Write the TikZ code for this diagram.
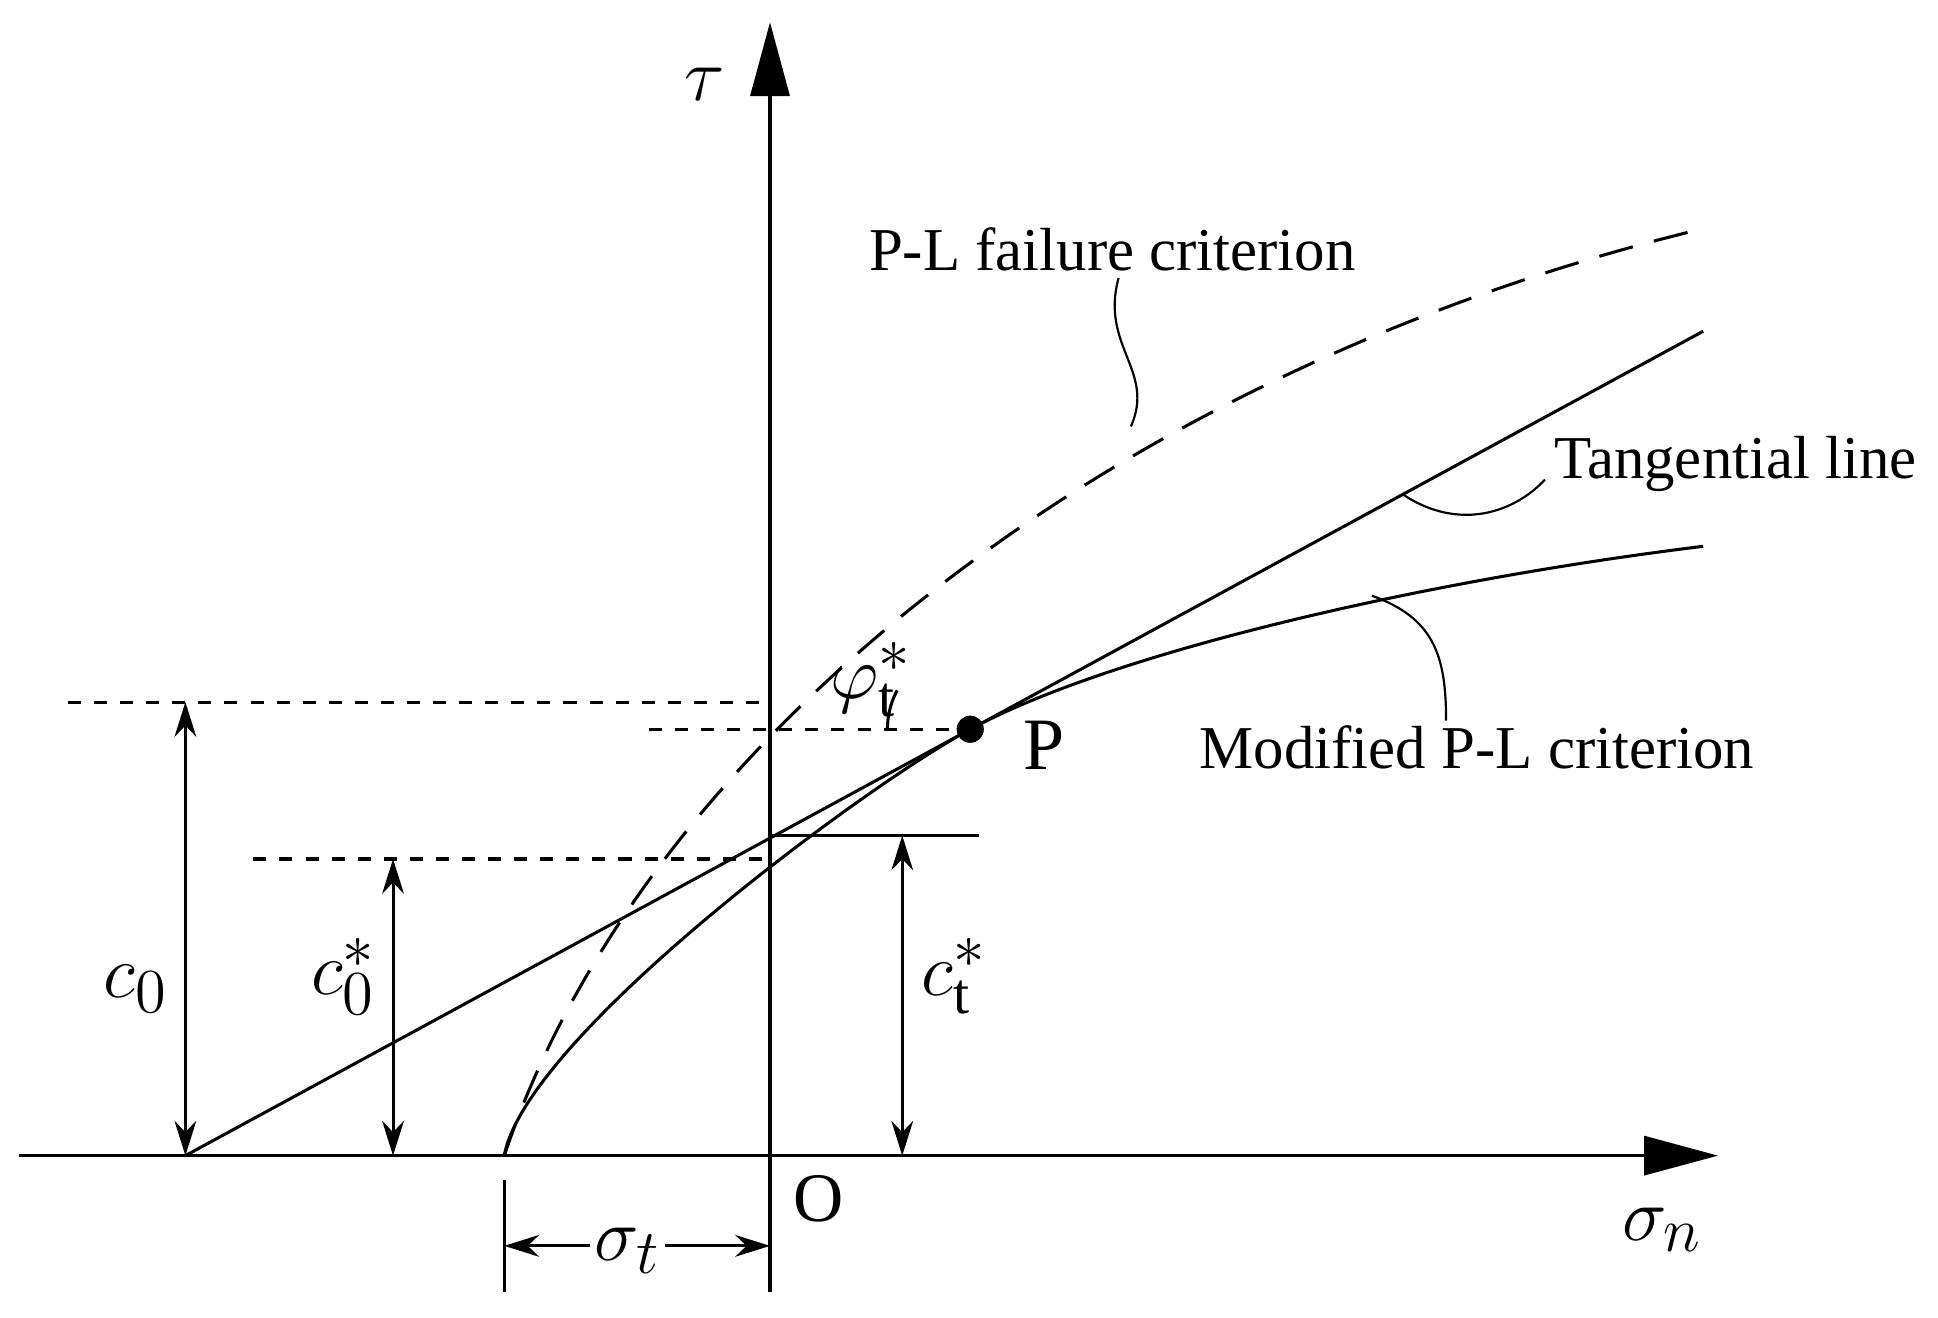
\documentclass[tikz,border=0pt]{standalone}
\usepackage{fontspec}
\setmainfont{Liberation Serif}
\usetikzlibrary{arrows.meta}
\begin{document}
\begin{tikzpicture}[x=0.01cm,y=-0.01cm,
  ln/.style={line width=0.7pt},
  dim/.style={line width=0.7pt,{Stealth[length=8pt,width=5pt]}-{Stealth[length=8pt,width=5pt]}},
  ax/.style={line width=0.7pt,-{Triangle[length=17pt,width=9pt]}},
  txt/.style={font=\fontsize{14}{17}\selectfont},
  mth/.style={font=\fontsize{19}{23}\selectfont}]
\useasboundingbox (0,0) rectangle (1568,1066);
\coordinate (O) at (623,935);
\coordinate (A) at (150,935);
\coordinate (S) at (408,935);
\coordinate (P) at (785,590);
% axes
\draw[ax] (15,935) -- (1390,935);
\draw[ax] (623,1045) -- (623,18);
\node[mth] (tau) at (570,68) {$\tau$};
\node[mth] (sn) at (1345,995) {$\sigma_n$};
\node[font=\fontsize{16}{19}\selectfont] (Ol) at (662,970) {O};
% tangent line
\draw[ln] (A) -- (1378,268);
% modified curve
\draw[ln] (S) .. controls (425,840) and (695,639) .. (P) .. controls (900,528) and (1150,470) .. (1378,442);
% PL dashed
\draw[ln,dash pattern=on 8pt off 5pt] (S) .. controls (520,600) and (900,300) .. (1378,185);
% dashed horizontals
\draw[ln,dashed] (55,568) -- (623,568);
\draw[ln,dashed] (205,695) -- (623,695);
\draw[ln,dashed] (525,590) -- (P);
\draw[ln] (623,676) -- (792,676);
% dimension arrows
\draw[dim] (150,568) -- (150,935);
\draw[dim] (318,695) -- (318,935);
\draw[dim] (730,676) -- (730,935);
\node[mth] (c0) at (110,800) {$c_0$};
\node[mth] (c0s) at (278,790) {$c_0^{*}$};
\node[mth] (cts) at (772,790) {$c_{\mathrm{t}}^{*}$};
% sigma_t
\draw[ln] (408,955) -- (408,1045);
\draw[ln] (623,955) -- (623,1045);
\draw[dim] (408,1008) -- (623,1008);
\node[mth,fill=white,inner sep=1pt] (st) at (508,1012) {$\sigma_t$};
% point P
\fill (P) circle (11);
\node[font=\fontsize{17}{20}\selectfont] (Pl) at (845,603) {P};
% angle
\draw[ln] (718,590) arc[start angle=180,end angle=208,radius=67];
\node[mth] (phi) at (705,550) {$\varphi_{\mathrm{t}}^{*}$};
% labels
\node[txt] (l1) at (900,202) {P-L failure criterion};
\draw[line width=0.5pt] (905,225) .. controls (890,280) and (935,300) .. (915,345);
\node[txt,anchor=west] (l2) at (1245,375) {Tangential line};
\draw[line width=0.5pt] (1250,388) .. controls (1225,415) and (1180,430) .. (1135,400);
\node[txt] (l3) at (1195,605) {Modified P-L criterion};
\draw[line width=0.5pt] (1170,583) .. controls (1170,530) and (1160,500) .. (1110,482);
\end{tikzpicture}
\end{document}
